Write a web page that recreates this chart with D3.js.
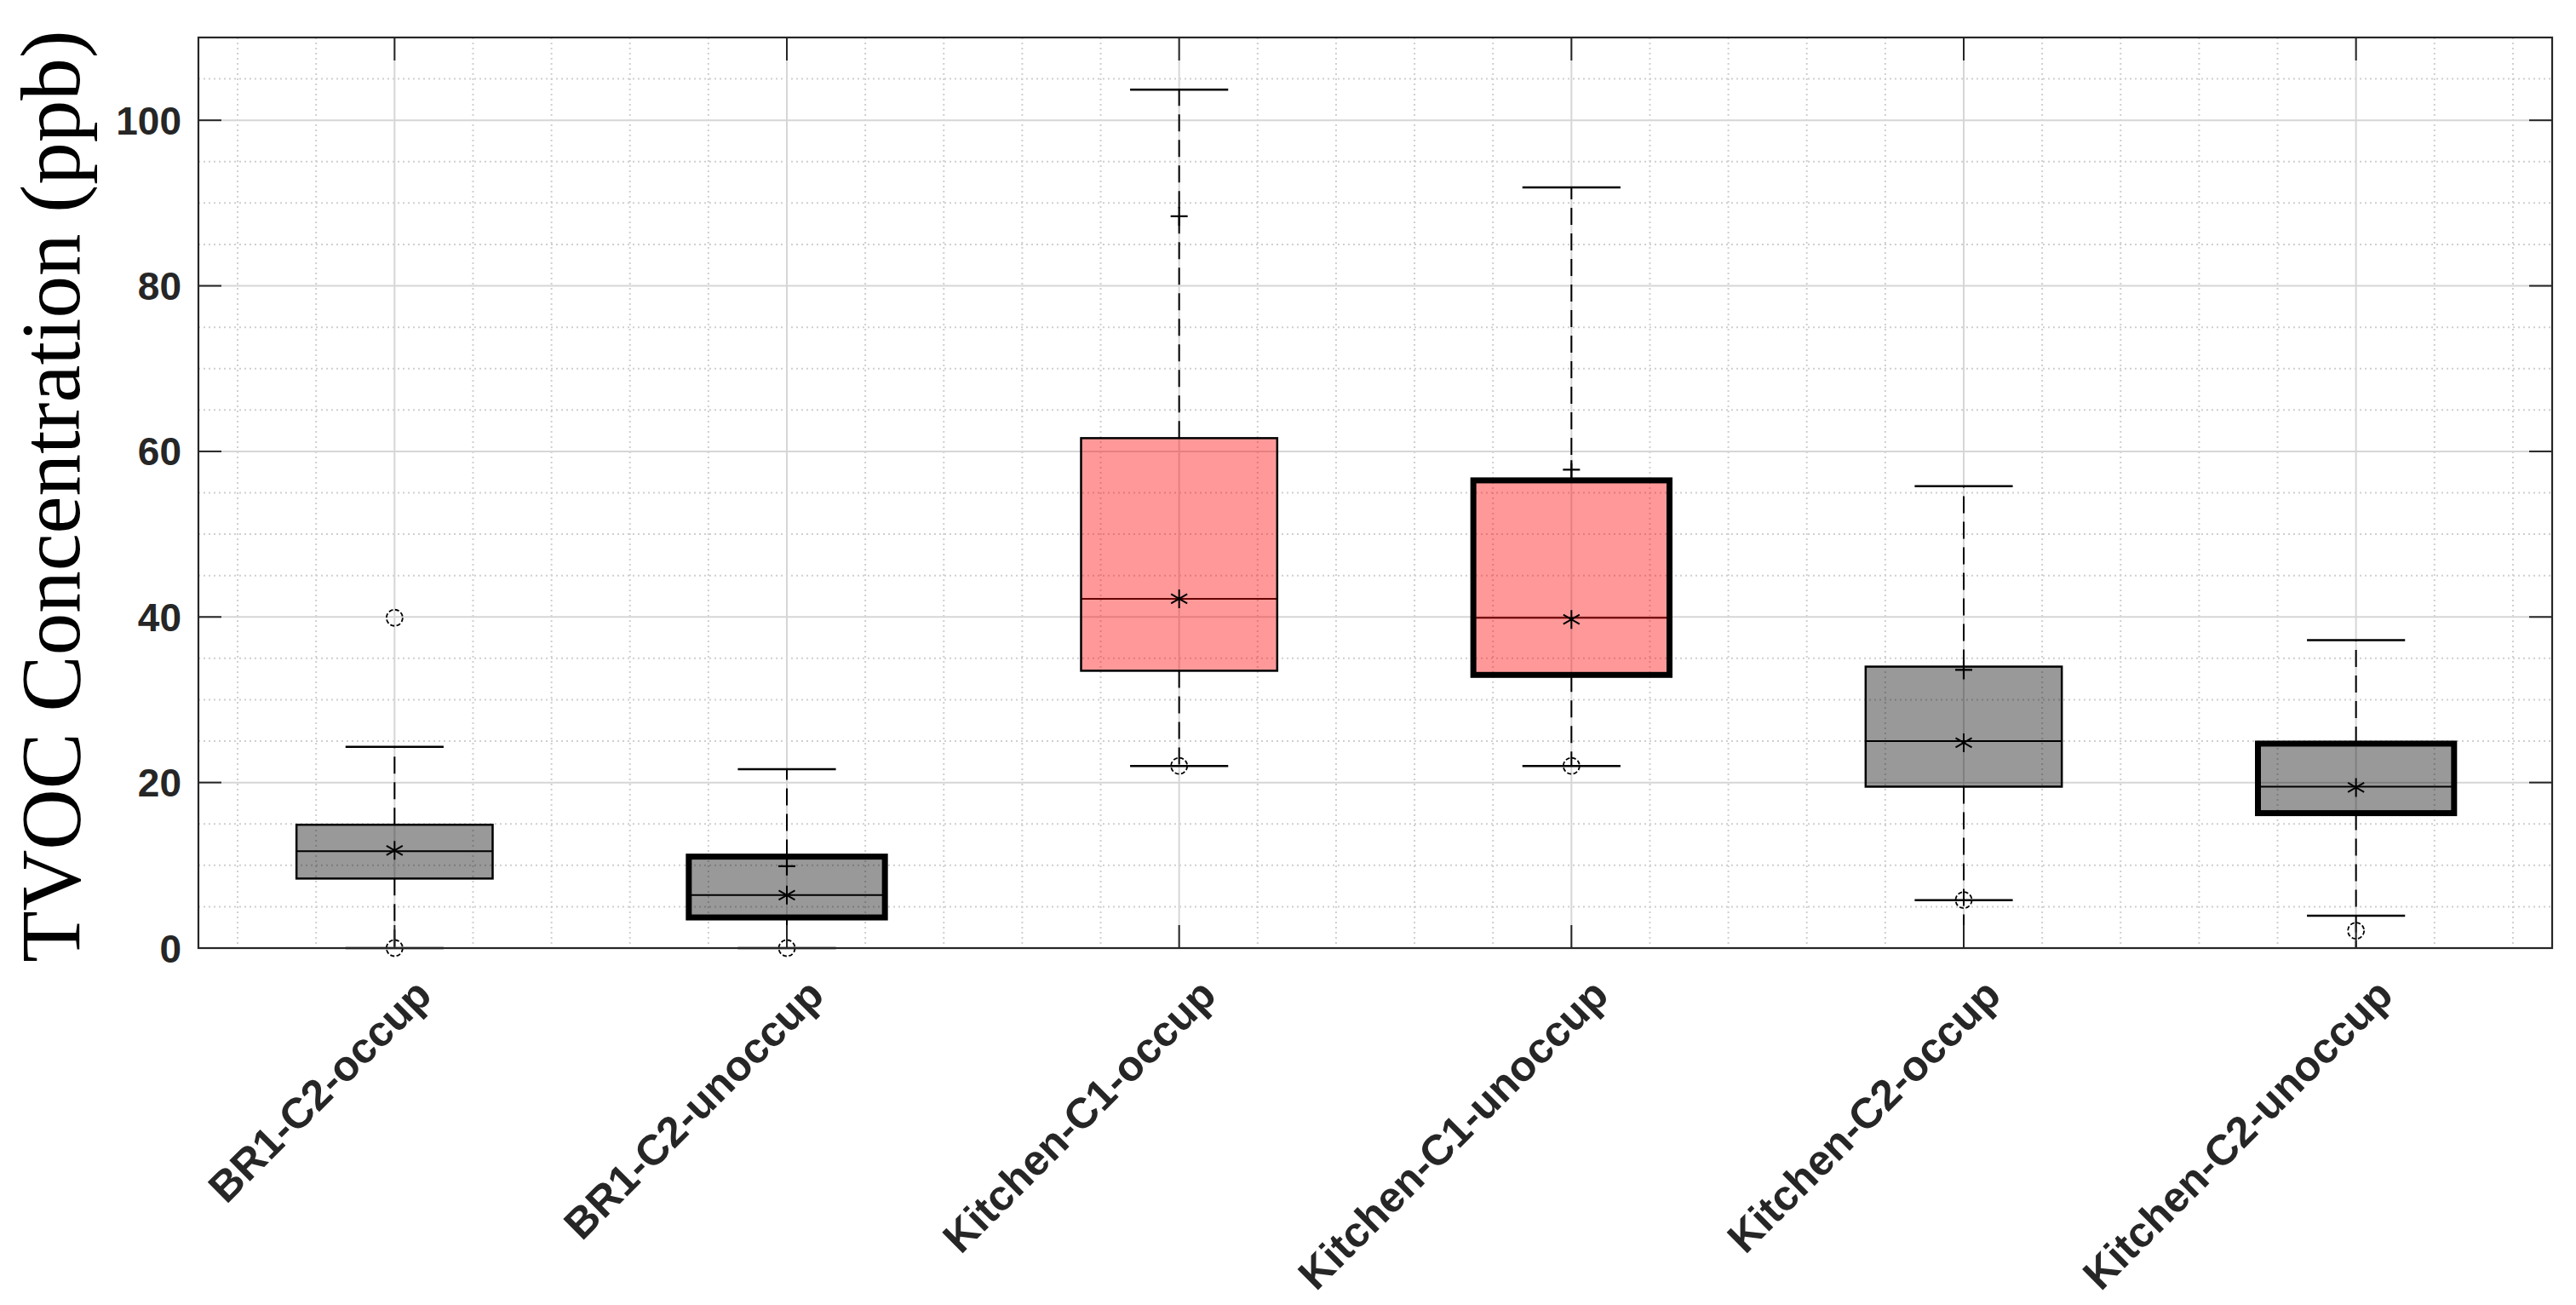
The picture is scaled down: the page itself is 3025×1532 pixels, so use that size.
<!DOCTYPE html>
<html>
<head>
<meta charset="utf-8">
<script src="https://cdn.jsdelivr.net/npm/d3@7"></script>
<style>
  html, body { margin: 0; padding: 0; background: #fff; }
  svg { display: block; }
</style>
</head>
<body>
<svg id="chart" width="3025" height="1532"></svg>
<script>
// ---------------- data ----------------
const categories = ["BR1-C2-occup", "BR1-C2-unoccup", "Kitchen-C1-occup", "Kitchen-C1-unoccup", "Kitchen-C2-occup", "Kitchen-C2-unoccup"];
const q1Values      = [8.4, 3.7, 33.5, 33.0, 19.5, 16.3];
const medianValues  = [11.7, 6.4, 42.2, 39.9, 25.0, 19.5];
const q3Values      = [14.9, 11.05, 61.6, 56.5, 34.0, 24.7];
const meanValues    = [11.8, 6.4, 42.2, 39.7, 24.8, 19.4];
const capLowValues  = [0, 0, 22.0, 22.0, 5.8, 3.9];
const capHighValues = [24.3, 21.6, 103.7, 91.9, 55.8, 37.2];
const whiskerLowValues = [0, 0, 22.0, 22.0, 0, 0];
const plusValues    = [null, 9.9, 88.4, 57.8, 33.6, null];
const circleValues  = [[0, 39.9], [0], [22.0], [22.0], [5.8], [2.1]];
const yTickValues   = [0, 20, 40, 60, 80, 100];
const yLabel = "TVOC Concentration (ppb)";

// ---------------- layout ----------------
const L = 233, T = 44, R = 2997, B = 1113;
const svg = d3.select("#chart");
const axisColor = "#262626";

const x = d3.scaleLinear().domain([0.5, 6.5]).range([L, R]);
const y = d3.scaleLinear().domain([0, 110]).range([B, T]);

const idx = d3.range(categories.length);
const isRed = i => categories[i].startsWith("Kitchen-C1");
const isThick = i => categories[i].endsWith("unoccup");
const boxHalf = 0.25, capHalf = 0.125;

// ---------------- grid ----------------
const grid = svg.append("g");
const minorY = d3.range(0, 110.01, 5).filter(v => v % 20 !== 0);
const minorX = d3.range(0.6, 6.45, 0.2).filter(v => Math.abs(v - Math.round(v)) > 0.01);
grid.selectAll(".minY").data(minorY).join("line")
  .attr("x1", L).attr("x2", R).attr("y1", d => y(d)).attr("y2", d => y(d))
  .attr("stroke", "#cfcfcf").attr("stroke-width", 2).attr("stroke-dasharray", "2,4");
grid.selectAll(".minX").data(minorX).join("line")
  .attr("y1", T).attr("y2", B).attr("x1", d => x(d)).attr("x2", d => x(d))
  .attr("stroke", "#cfcfcf").attr("stroke-width", 2).attr("stroke-dasharray", "2,4");
grid.selectAll(".majY").data(yTickValues).join("line")
  .attr("x1", L).attr("x2", R).attr("y1", d => y(d)).attr("y2", d => y(d))
  .attr("stroke", "#d6d6d6").attr("stroke-width", 2);
grid.selectAll(".majX").data(idx).join("line")
  .attr("y1", T).attr("y2", B).attr("x1", i => x(i + 1)).attr("x2", i => x(i + 1))
  .attr("stroke", "#d6d6d6").attr("stroke-width", 2);

// ---------------- boxes ----------------
const g = svg.append("g");
// whiskers (dashed)
g.selectAll(".wu").data(idx).join("line")
  .attr("x1", i => x(i + 1)).attr("x2", i => x(i + 1))
  .attr("y1", i => y(q3Values[i])).attr("y2", i => y(capHighValues[i]))
  .attr("stroke", "#000").attr("stroke-width", 2).attr("stroke-dasharray", "20,10");
g.selectAll(".wl").data(idx).join("line")
  .attr("x1", i => x(i + 1)).attr("x2", i => x(i + 1))
  .attr("y1", i => y(q1Values[i])).attr("y2", i => y(whiskerLowValues[i]))
  .attr("stroke", "#000").attr("stroke-width", 2).attr("stroke-dasharray", "20,10");
// caps
g.selectAll(".cu").data(idx).join("line")
  .attr("x1", i => x(i + 1 - capHalf)).attr("x2", i => x(i + 1 + capHalf))
  .attr("y1", i => y(capHighValues[i])).attr("y2", i => y(capHighValues[i]))
  .attr("stroke", "#000").attr("stroke-width", 2.5);
g.selectAll(".cl").data(idx).join("line")
  .attr("x1", i => x(i + 1 - capHalf)).attr("x2", i => x(i + 1 + capHalf))
  .attr("y1", i => y(capLowValues[i])).attr("y2", i => y(capLowValues[i]))
  .attr("stroke", "#000").attr("stroke-width", 2.5);
// medians
g.selectAll(".med").data(idx).join("line")
  .attr("x1", i => x(i + 1 - boxHalf)).attr("x2", i => x(i + 1 + boxHalf))
  .attr("y1", i => y(medianValues[i])).attr("y2", i => y(medianValues[i]))
  .attr("stroke", "#000").attr("stroke-width", 2);
// box fill (semi transparent)
g.selectAll(".fill").data(idx).join("rect")
  .attr("x", i => x(i + 1 - boxHalf)).attr("width", i => x(i + 1 + boxHalf) - x(i + 1 - boxHalf))
  .attr("y", i => y(q3Values[i])).attr("height", i => y(q1Values[i]) - y(q3Values[i]))
  .attr("fill", i => isRed(i) ? "rgb(255,0,0)" : "#000").attr("fill-opacity", 0.4)
  .attr("stroke", "none");
// box outline
g.selectAll(".outline").data(idx).join("rect")
  .attr("x", i => x(i + 1 - boxHalf)).attr("width", i => x(i + 1 + boxHalf) - x(i + 1 - boxHalf))
  .attr("y", i => y(q3Values[i])).attr("height", i => y(q1Values[i]) - y(q3Values[i]))
  .attr("fill", "none").attr("stroke", "#000").attr("stroke-width", i => isThick(i) ? 7 : 2.5);

// markers: mean asterisk
const star = g.selectAll(".star").data(idx).join("g")
  .attr("transform", i => `translate(${x(i + 1)},${y(meanValues[i])})`);
star.append("path")
  .attr("d", "M0,-11 L0,11 M-9.5,-5.5 L9.5,5.5 M-9.5,5.5 L9.5,-5.5")
  .attr("stroke", "#000").attr("stroke-width", 2).attr("fill", "none");
// plus markers
const plusIdx = idx.filter(i => plusValues[i] !== null);
g.selectAll(".plus").data(plusIdx).join("path")
  .attr("transform", i => `translate(${x(i + 1)},${y(plusValues[i])})`)
  .attr("d", "M-10,0 L10,0 M0,-11 L0,11")
  .attr("stroke", "#000").attr("stroke-width", 2.2).attr("fill", "none");
// circles
const circData = idx.flatMap(i => circleValues[i].map(v => ({ i, v })));
g.selectAll(".circ").data(circData).join("circle")
  .attr("cx", d => x(d.i + 1)).attr("cy", d => y(d.v)).attr("r", 9.5)
  .attr("fill", "none").attr("stroke", "#000").attr("stroke-width", 1.8)
  .attr("stroke-dasharray", "5,2.5");

// ---------------- axes ----------------
const ax = svg.append("g");
const tickLen = 27;
ax.selectAll(".ytl").data(yTickValues).join("line")
  .attr("x1", L).attr("x2", L + tickLen).attr("y1", d => y(d)).attr("y2", d => y(d))
  .attr("stroke", axisColor).attr("stroke-width", 2);
ax.selectAll(".ytr").data(yTickValues).join("line")
  .attr("x1", R).attr("x2", R - tickLen).attr("y1", d => y(d)).attr("y2", d => y(d))
  .attr("stroke", axisColor).attr("stroke-width", 2);
ax.selectAll(".xtb").data(idx).join("line")
  .attr("x1", i => x(i + 1)).attr("x2", i => x(i + 1)).attr("y1", B).attr("y2", B - tickLen)
  .attr("stroke", axisColor).attr("stroke-width", 2);
ax.selectAll(".xtt").data(idx).join("line")
  .attr("x1", i => x(i + 1)).attr("x2", i => x(i + 1)).attr("y1", T).attr("y2", T + tickLen)
  .attr("stroke", axisColor).attr("stroke-width", 2);
ax.append("rect").attr("x", L).attr("y", T).attr("width", R - L).attr("height", B - T)
  .attr("fill", "none").attr("stroke", axisColor).attr("stroke-width", 2.2);

// y tick labels
ax.selectAll(".ylab").data(yTickValues).join("text")
  .attr("x", L - 20).attr("y", d => y(d)).attr("dy", "0.36em")
  .attr("text-anchor", "end")
  .attr("font-family", "'Liberation Sans', Arial, sans-serif").attr("font-weight", "bold")
  .attr("font-size", 46).attr("fill", axisColor)
  .text(d => d);

// x tick labels rotated 45
ax.selectAll(".xlab").data(idx).join("text")
  .attr("transform", i => `translate(${x(i + 1) + 46},${B + 58}) rotate(-45)`)
  .attr("text-anchor", "end")
  .attr("font-family", "'Liberation Sans', Arial, sans-serif").attr("font-weight", "bold")
  .attr("font-size", 50).attr("fill", axisColor)
  .text(i => categories[i]);

// y axis title
svg.append("text")
  .attr("transform", `translate(93,${(T + B) / 2 + 4}) rotate(-90)`)
  .attr("text-anchor", "middle")
  .attr("font-family", "'Liberation Serif', 'DejaVu Serif', serif")
  .attr("font-size", 99).attr("fill", "#000")
  .text(yLabel);
</script>
</body>
</html>
